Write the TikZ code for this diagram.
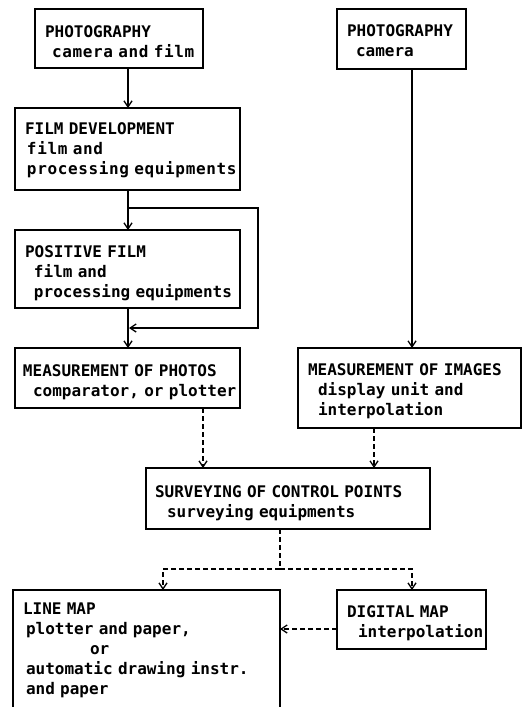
\documentclass[tikz,border=0pt]{standalone}
\usepackage{fontspec}
\setmainfont{DejaVu Sans Mono}
\usetikzlibrary{arrows.meta}
\newcommand\tline[2]{\hspace*{#1pt}\mbox{#2}}
\newcommand\wideline[2]{\hspace*{#1pt}\mbox{\addfontfeature{LetterSpace=4}#2}}
\begin{document}
\begin{tikzpicture}[x=1pt,y=-1pt,
  box/.style={draw, line width=1.4pt, anchor=north west, inner sep=0pt, outer sep=0pt, align=left,
    font=\bfseries\fontsize{16}{20}\selectfont},
  conn/.style={line width=1.3pt},
  arr/.style={conn, -{Straight Barb[length=6pt,width=8pt]}},
  dsh/.style={dash pattern=on 5pt off 3pt}
]
\useasboundingbox (0,0) rectangle (526,707);
\fill[white] (0,0) rectangle (526,707);

% boxes
\node[box, text width=168pt, text height=28pt, text depth=31pt] (b1) at (35,9)
  {\tline{10}{PHOTOGRAPHY}\\\wideline{17}{camera and film}};
\node[box, text width=225pt, text height=26pt, text depth=56pt] (b2) at (15,108)
  {\tline{10}{FILM DEVELOPMENT}\\\wideline{12}{film and}\\\wideline{12}{processing equipments}};
\node[box, text width=225pt, text height=27pt, text depth=51pt] (b3) at (15,230)
  {\tline{10}{POSITIVE FILM}\\\tline{19}{film and}\\\tline{19}{processing equipments}};
\node[box, text width=225pt, text height=28pt, text depth=32pt] (b4) at (15,348)
  {\tline{8}{MEASUREMENT OF PHOTOS}\\\tline{18}{comparator, or plotter}};
\node[box, text width=129pt, text height=27pt, text depth=33pt] (r1) at (337,9)
  {\tline{10}{PHOTOGRAPHY}\\\tline{19}{camera}};
\node[box, text width=223pt, text height=27pt, text depth=53pt] (r2) at (298,348)
  {\tline{10}{MEASUREMENT OF IMAGES}\\\tline{20}{display unit and}\\\tline{20}{interpolation}};
\node[box, text width=284pt, text height=29pt, text depth=32pt] (b5) at (146,468)
  {\tline{9}{SURVEYING OF CONTROL POINTS}\\\tline{21}{surveying equipments}};
\node[box, draw=none, text width=267pt, text height=24pt, text depth=100pt] (lm) at (13,590)
  {\tline{10}{LINE MAP}\\\tline{13}{plotter and paper,}\\\tline{77}{or}\\\tline{13}{automatic drawing instr.}\\\tline{13}{and paper}};
\node[box, text width=149pt, text height=27pt, text depth=32pt] (dm) at (337,590)
  {\tline{10}{DIGITAL MAP}\\\tline{21}{interpolation}};

% open-bottom frame of the line map box
\coordinate (bot) at (0,709);
\draw[line width=1.4pt] (lm.north west |- bot) -- (lm.north west) -- (lm.north east) -- (lm.north east |- bot);

% helper coordinates
\coordinate (xa) at (128,0);
\coordinate (xb) at (412,0);
\coordinate (xc) at (203,0);
\coordinate (xd) at (374,0);
\coordinate (hub) at (280,569);
\coordinate (xl) at (163,0);
\coordinate (sp) at (128,208);
\coordinate (rc) at (258,0);
\coordinate (jn) at (129,328);
\coordinate (yy) at (0,629);

% solid connectors
\draw[arr] (b1.south -| xa) -- (b2.north -| xa);
\draw[arr] (b2.south -| xa) -- (b3.north -| xa);
\draw[arr] (b3.south -| xa) -- (b4.north -| xa);
\draw[arr] (sp) -- (sp -| rc) -- (jn -| rc) -- (jn);
\draw[arr] (r1.south -| xb) -- (r2.north -| xb);

% dashed connectors
\draw[arr, dsh] (b4.south -| xc) -- (b5.north -| xc);
\draw[arr, dsh] (r2.south -| xd) -- (b5.north -| xd);
\draw[conn, dsh] (b5.south -| hub) -- (hub);
\draw[arr, dsh] (hub) -| (lm.north -| xl);
\draw[arr, dsh] (hub) -| (dm.north -| xb);
\draw[arr, dsh] (dm.west |- yy) -- (lm.east |- yy);
\end{tikzpicture}
\end{document}
